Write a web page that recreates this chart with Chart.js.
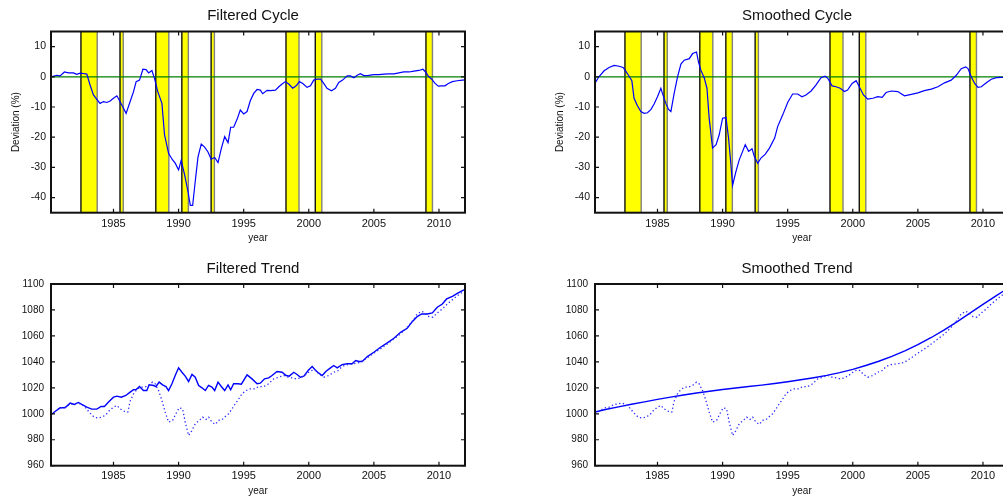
<!DOCTYPE html>
<html>
<head>
<meta charset="utf-8">
<script src="https://cdn.jsdelivr.net/npm/chart.js@4.4.0/dist/chart.umd.min.js"></script>
<style>
  html, body { margin: 0; padding: 0; background: #fff; overflow: hidden; width: 1003px; height: 502px; position: relative; }
  canvas { position: absolute; }
</style>
</head>
<body>
<canvas id="fc" width="500" height="250" style="left:0;top:0;width:500px;height:250px"></canvas>
<canvas id="sc" width="500" height="250" style="left:544px;top:0;width:500px;height:250px"></canvas>
<canvas id="ft" width="500" height="252" style="left:0;top:250px;width:500px;height:252px"></canvas>
<canvas id="st" width="500" height="252" style="left:544px;top:250px;width:500px;height:252px"></canvas>
<script>
// ---- data: [year, value] ----
const yearTicks = [1985, 1990, 1995, 2000, 2005, 2010];
const cycleTicks = [-40, -30, -20, -10, 0, 10];
const trendTicks = [960, 980, 1000, 1020, 1040, 1060, 1080, 1100];

// recession periods [start, end]
const recessions = [
  [1982.5, 1983.75], [1985.5, 1985.75], [1988.25, 1989.25], [1990.25, 1990.75],
  [1992.5, 1992.75], [1998.25, 1999.25], [2000.5, 2001.0], [2009.0, 2009.5]
];

const filteredCycle = [
  [1980.2,0],[1980.64,0.5],[1980.9,0.3],[1981.23,1.6],[1981.54,1.3],[1981.92,1.3],[1982.18,0.8],
  [1982.44,1.2],[1982.69,1.1],[1982.95,0.9],[1983.2,-2.7],[1983.46,-6],[1983.72,-7.5],[1983.97,-8.8],
  [1984.23,-8.2],[1984.49,-8.5],[1984.74,-8],[1985.0,-7.1],[1985.26,-6.3],[1985.5,-8.2],[1985.77,-10.4],
  [1985.97,-12.1],[1986.28,-8.2],[1986.54,-4.9],[1986.74,-1.6],[1987.0,-1.1],[1987.26,2.5],[1987.5,2.4],
  [1987.7,1.3],[1987.95,2.1],[1988.15,-0.5],[1988.4,-4.9],[1988.72,-8.8],[1988.92,-19.2],[1989.23,-25.3],
  [1989.5,-27.3],[1989.74,-28.6],[1990.0,-30.8],[1990.2,-27.7],[1990.46,-32.4],[1990.72,-37.9],
  [1990.9,-42.6],[1991.08,-42.6],[1991.28,-34.6],[1991.49,-26.6],[1991.74,-22.3],[1992.0,-23.3],
  [1992.26,-24.9],[1992.5,-27.3],[1992.77,-26.7],[1993.03,-28.4],[1993.28,-23.8],[1993.54,-19.8],
  [1993.8,-21.8],[1994.0,-16.7],[1994.23,-16.7],[1994.5,-14],[1994.74,-11],[1995.0,-12.3],[1995.26,-11.5],
  [1995.5,-8],[1995.77,-5.5],[1996.03,-4.2],[1996.28,-4.4],[1996.46,-5.6],[1996.8,-4.5],[1997.05,-4.6],
  [1997.44,-4.4],[1997.7,-3.3],[1997.95,-2.4],[1998.2,-1.6],[1998.46,-2.4],[1998.77,-3.8],[1999.03,-3],
  [1999.28,-1.6],[1999.54,-2.2],[1999.87,-3.5],[2000.13,-3],[2000.38,-1.1],[2000.64,-0.8],[2000.9,-0.8],
  [2001.15,-2.2],[2001.4,-3.8],[2001.74,-4.6],[2002.05,-3.8],[2002.3,-1.9],[2002.6,-1.1],[2002.95,0.3],
  [2003.2,0.3],[2003.46,-0.3],[2003.72,0.5],[2003.97,1.0],[2004.23,0.4],[2004.6,0.5],[2005.0,0.7],
  [2005.38,0.7],[2005.77,0.9],[2006.15,1.0],[2006.54,1.0],[2006.92,1.3],[2007.3,1.6],[2007.7,1.6],
  [2008.08,1.9],[2008.46,2.1],[2008.77,2.5],[2008.97,1.6],[2009.18,0.2],[2009.44,-0.8],[2009.7,-2.2],
  [2009.95,-3.1],[2010.2,-3],[2010.46,-3],[2010.72,-2.2],[2011.03,-1.6],[2011.4,-1.3],[2011.8,-1.1],[2012.0,-1.0]
];

const smoothedCycle = [
  [1980.2,-2.1],[1980.5,0],[1980.9,2.0],[1981.28,3.1],[1981.67,3.8],[1982.05,3.5],[1982.36,3.1],
  [1982.56,1.9],[1982.82,0.2],[1983.03,-1.3],[1983.2,-7.1],[1983.46,-9.6],[1983.72,-11.5],[1983.97,-12.1],
  [1984.23,-11.9],[1984.5,-10.8],[1984.74,-9],[1985.0,-6.6],[1985.26,-3.8],[1985.38,-5.5],[1985.64,-8.8],
  [1985.85,-10.8],[1986.03,-11.5],[1986.28,-5.5],[1986.54,0],[1986.8,4.2],[1987.05,5.5],[1987.44,6.0],
  [1987.7,7.7],[1988.0,8.2],[1988.15,4.9],[1988.33,2.2],[1988.6,-0.5],[1988.8,-3.8],[1988.97,-13.7],
  [1989.23,-23.6],[1989.5,-22.5],[1989.74,-19.2],[1990.0,-13.7],[1990.26,-13.5],[1990.46,-20.3],
  [1990.64,-29.1],[1990.77,-35.9],[1991.03,-31.3],[1991.28,-27.5],[1991.54,-24.7],[1991.74,-22.5],
  [1992.0,-24.7],[1992.26,-23.8],[1992.44,-26.4],[1992.7,-28.6],[1992.95,-26.9],[1993.28,-25.6],
  [1993.6,-23.6],[1994.0,-20.3],[1994.23,-16.5],[1994.62,-12.6],[1995.0,-8.5],[1995.38,-5.7],
  [1995.77,-5.7],[1996.1,-6.6],[1996.4,-6.0],[1996.8,-4.7],[1997.18,-2.7],[1997.56,-0.3],[1997.87,0.2],
  [1998.08,-0.5],[1998.41,-3],[1998.72,-3.3],[1999.03,-3.8],[1999.36,-4.9],[1999.6,-4.4],[1999.95,-2.2],
  [2000.26,-1.3],[2000.5,-3.3],[2000.82,-6.0],[2001.15,-7.4],[2001.54,-7.1],[2001.92,-6.6],[2002.26,-6.8],
  [2002.56,-5.2],[2002.95,-4.7],[2003.46,-4.9],[2003.97,-6.3],[2004.5,-5.8],[2005.0,-5.3],[2005.5,-4.6],
  [2006.03,-4.1],[2006.54,-3.3],[2007.05,-2.0],[2007.56,-1.1],[2007.95,0.5],[2008.33,2.7],[2008.67,3.3],
  [2008.85,2.7],[2009.1,0],[2009.36,-2.2],[2009.62,-3.5],[2009.87,-3.3],[2010.26,-2.0],[2010.64,-0.8],
  [2011.03,-0.3],[2011.41,-0.2],[2011.8,-0.2],[2012.0,-0.2]
];

const filteredTrend = [
  [1980.2,999.2],[1980.51,1001.8],[1980.9,1004.6],[1981.28,1004.6],[1981.67,1008.2],[1982.0,1007.2],
  [1982.3,1008.7],[1982.56,1007.2],[1982.95,1005.1],[1983.33,1003.6],[1983.72,1003.6],[1984.05,1005.6],
  [1984.3,1005.6],[1984.62,1009],[1985.0,1012.8],[1985.26,1013.6],[1985.6,1012.8],[1985.95,1014.1],
  [1986.28,1016.7],[1986.54,1018.5],[1986.74,1018.7],[1987.0,1021],[1987.3,1017.9],[1987.56,1017.9],
  [1987.74,1022.3],[1988.08,1021.8],[1988.26,1021],[1988.51,1024.4],[1988.77,1022.3],[1989.03,1021],
  [1989.23,1017.9],[1989.49,1023.1],[1989.74,1029.5],[1990.0,1035.4],[1990.26,1032],[1990.51,1029],
  [1990.77,1024.9],[1991.03,1030.3],[1991.28,1028.2],[1991.54,1021.8],[1991.8,1020],[1992.05,1017.9],
  [1992.3,1021.8],[1992.56,1020.5],[1992.77,1017.9],[1993.03,1024.4],[1993.28,1021],[1993.54,1017.9],
  [1993.8,1022.3],[1994.0,1018.5],[1994.23,1023.1],[1994.56,1023.1],[1994.82,1022.8],[1995.26,1030],
  [1995.64,1026.9],[1996.03,1023.1],[1996.28,1023.6],[1996.6,1026.9],[1996.92,1027.7],[1997.18,1029.5],
  [1997.56,1032.6],[1997.95,1032],[1998.26,1029.5],[1998.5,1029],[1998.85,1032],[1999.1,1030.3],
  [1999.36,1028.2],[1999.62,1029],[1999.95,1033.3],[2000.26,1036.4],[2000.5,1033.8],[2000.77,1031.3],
  [2001.03,1029.5],[2001.33,1032.8],[2001.67,1035.4],[2001.92,1037.2],[2002.18,1035.4],[2002.56,1037.9],
  [2002.95,1038.5],[2003.33,1038.5],[2003.6,1041],[2003.85,1040.3],[2004.1,1040.3],[2004.5,1044.1],
  [2005.0,1047.4],[2005.51,1051.3],[2006.03,1054.6],[2006.54,1058.2],[2007.05,1062.8],[2007.56,1065.9],
  [2007.95,1071],[2008.33,1074.9],[2008.67,1076.9],[2009.1,1076.9],[2009.49,1077.7],[2009.87,1082.1],
  [2010.26,1084.6],[2010.59,1088.5],[2011.03,1090.5],[2011.41,1092.8],[2011.8,1094.9],[2012.05,1095.9]
];

const observed = [
  [1980.2,1000],[1980.51,1001.8],[1980.9,1004.4],[1981.28,1005.1],[1981.67,1007.2],[1982.0,1007.7],
  [1982.3,1008.2],[1982.56,1007.2],[1982.82,1005.1],[1983.2,1000.5],[1983.51,997.4],[1983.8,996.7],
  [1984.1,997.4],[1984.41,999.2],[1984.69,1002.6],[1985.0,1005.1],[1985.26,1006.4],[1985.51,1003.8],
  [1985.85,1001.8],[1986.1,1001.3],[1986.28,1009.7],[1986.54,1015.4],[1986.74,1017.9],[1987.05,1020.5],
  [1987.36,1020.5],[1987.69,1021.8],[1988.0,1024.4],[1988.2,1023.1],[1988.46,1017.9],[1988.72,1010.3],
  [1988.97,1001.3],[1989.23,993.6],[1989.54,994.9],[1989.79,1000],[1990.05,1004.6],[1990.31,1003.8],
  [1990.51,993.6],[1990.77,983.3],[1991.03,987.2],[1991.28,992.3],[1991.59,994.9],[1991.85,997.4],
  [1992.1,995.6],[1992.31,997.4],[1992.56,993.6],[1992.82,991.8],[1993.08,994.9],[1993.33,995.4],
  [1993.59,997.9],[1993.85,1000],[1994.1,1003.8],[1994.36,1007.7],[1994.62,1011.5],[1994.87,1015.4],
  [1995.18,1017.9],[1995.51,1019.2],[1995.85,1019.2],[1996.15,1021],[1996.54,1021],[1996.92,1023.1],
  [1997.31,1026.9],[1997.69,1028.2],[1998.08,1029.5],[1998.41,1028.2],[1998.72,1027.7],[1999.03,1026.9],
  [1999.36,1027.7],[1999.69,1029.5],[2000.0,1032],[2000.31,1033.8],[2000.56,1033.3],[2000.82,1030.3],
  [2001.15,1028.2],[2001.54,1029.5],[2001.92,1032],[2002.26,1033.3],[2002.56,1036.4],[2002.95,1037.9],
  [2003.46,1038.5],[2003.97,1039.7],[2004.49,1043.1],[2005.0,1046.7],[2005.51,1050],[2006.03,1053.8],
  [2006.54,1057.7],[2007.05,1061.5],[2007.56,1066.7],[2007.95,1071.3],[2008.33,1076.9],[2008.67,1079],
  [2008.92,1077.7],[2009.23,1074.9],[2009.54,1074.4],[2009.87,1077.7],[2010.26,1080.8],[2010.64,1084.6],
  [2011.03,1087.9],[2011.41,1091],[2011.8,1093.6],[2012.05,1094.9]
];

const smoothedTrend = [
  [1980.2,1001.4],[1981,1003.3],[1982,1005.3],[1983,1007.3],[1984,1009.2],[1985,1011.1],[1986,1012.8],
  [1987,1014.5],[1988,1016.0],[1989,1017.4],[1990,1018.7],[1991,1019.9],[1992,1021.0],[1993,1022.1],
  [1994,1023.3],[1995,1024.7],[1996,1026.2],[1997,1027.8],[1998,1029.6],[1999,1031.7],[2000,1034.2],
  [2001,1037.2],[2002,1040.5],[2003,1044.3],[2004,1048.5],[2005,1053.2],[2006,1058.6],[2007,1064.5],
  [2008,1070.8],[2009,1077.5],[2010,1084.3],[2011,1090.8],[2012,1097.3]
];

// ---- drawing ----
const FONT = '"Liberation Sans", Arial, Helvetica, sans-serif';
Chart.defaults.font.family = FONT;
Chart.defaults.color = '#111';

const toXY = arr => arr.map(([x, y]) => ({ x, y }));

// recession shading, zero line, box frame with inward ticks, panel title
const panelDecor = {
  id: 'panelDecor',
  beforeDatasetsDraw(chart, args, opts) {
    const { ctx, chartArea: a, scales: { x, y } } = chart;
    ctx.save();
    ctx.beginPath();
    ctx.rect(a.left, a.top, a.right - a.left, a.bottom - a.top);
    ctx.clip();
    (opts.bands || []).forEach(([s, e]) => {
      const x0 = x.getPixelForValue(s), x1 = x.getPixelForValue(e);
      ctx.fillStyle = '#ffff00';
      ctx.fillRect(x0, a.top, x1 - x0, a.bottom - a.top);
      ctx.lineWidth = 1.4;
      ctx.strokeStyle = '#111';
      ctx.beginPath(); ctx.moveTo(x0, a.top); ctx.lineTo(x0, a.bottom); ctx.stroke();
      ctx.strokeStyle = '#808080';
      ctx.beginPath(); ctx.moveTo(x1, a.top); ctx.lineTo(x1, a.bottom); ctx.stroke();
    });
    if (opts.zeroLine) {
      const yz = y.getPixelForValue(0);
      ctx.strokeStyle = '#008000';
      ctx.lineWidth = 1.3;
      ctx.beginPath(); ctx.moveTo(a.left, yz); ctx.lineTo(a.right, yz); ctx.stroke();
    }
    ctx.restore();
  },
  afterDatasetsDraw(chart) {
    const { ctx, chartArea: a, scales: { x, y } } = chart;
    ctx.save();
    ctx.strokeStyle = '#111';
    ctx.lineWidth = 1.2;
    const tl = 4;
    ctx.beginPath();
    x.ticks.forEach(t => {
      const px = x.getPixelForValue(t.value);
      ctx.moveTo(px, a.top); ctx.lineTo(px, a.top + tl);
      ctx.moveTo(px, a.bottom); ctx.lineTo(px, a.bottom - tl);
    });
    y.ticks.forEach(t => {
      const py = y.getPixelForValue(t.value);
      ctx.moveTo(a.left, py); ctx.lineTo(a.left + tl, py);
      ctx.moveTo(a.right, py); ctx.lineTo(a.right - tl, py);
    });
    ctx.stroke();
    ctx.lineWidth = 2;
    ctx.strokeRect(a.left, a.top, a.right - a.left, a.bottom - a.top);
    ctx.restore();
  },
  afterDraw(chart, args, opts) {
    if (!opts.title) return;
    const { ctx, chartArea: a } = chart;
    ctx.save();
    ctx.font = '15px ' + FONT;
    ctx.fillStyle = '#111';
    ctx.textAlign = 'center';
    ctx.textBaseline = 'alphabetic';
    ctx.fillText(opts.title, (a.left + a.right) / 2 - 5, a.top - 11.2);
    ctx.restore();
  }
};

function xScale(axisHeight, labelPad, titlePad) {
  return {
    type: 'linear', min: 1980.2, max: 2012.0,
    afterBuildTicks: s => { s.ticks = yearTicks.map(v => ({ value: v })); },
    afterFit: s => { s.height = axisHeight; },
    grid: { display: false, drawTicks: false },
    border: { display: false },
    ticks: { autoSkip: false, maxRotation: 0, padding: labelPad, font: { size: 11 }, color: '#111',
             callback: v => String(v) },
    title: { display: true, text: 'year', font: { size: 10 }, color: '#111',
             padding: { top: 0, bottom: titlePad } }
  };
}

function cycleChart(id, title, series) {
  return new Chart(document.getElementById(id), {
    type: 'line',
    data: { datasets: [{ data: toXY(series), borderColor: '#0000ff', borderWidth: 1.2, pointRadius: 0, tension: 0 }] },
    options: {
      responsive: false, animation: false, devicePixelRatio: 1,
      layout: { padding: { top: 31.5, right: 35, left: 0, bottom: 0 } },
      plugins: { legend: { display: false }, tooltip: { enabled: false },
                 panelDecor: { bands: recessions, zeroLine: true, title } },
      scales: {
        x: xScale(37.3, 5, 6),
        y: {
          min: -45, max: 15,
          afterBuildTicks: s => { s.ticks = cycleTicks.map(v => ({ value: v })); },
          afterFit: s => { s.width = 51; },
          grid: { display: false, drawTicks: false },
          border: { display: false },
          ticks: { padding: 5, font: { size: 10.5 }, color: '#111' },
          title: { display: true, text: 'Deviation (%)', font: { size: 10 }, color: '#111',
                   padding: { top: 10, bottom: 0 } }
        }
      }
    },
    plugins: [panelDecor]
  });
}

function trendChart(id, title, trend) {
  return new Chart(document.getElementById(id), {
    type: 'line',
    data: { datasets: [
      { data: toXY(observed), borderColor: '#2a2aff', borderWidth: 1.3, borderDash: [1.3, 2.5],
        pointRadius: 0, tension: 0 },
      { data: toXY(trend), borderColor: '#0000ff', borderWidth: 1.4, pointRadius: 0, tension: 0 }
    ] },
    options: {
      responsive: false, animation: false, devicePixelRatio: 1,
      layout: { padding: { top: 34, right: 35, left: 0, bottom: 0 } },
      plugins: { legend: { display: false }, tooltip: { enabled: false },
                 panelDecor: { title } },
      scales: {
        x: xScale(36.3, 4, 4.3),
        y: {
          min: 960, max: 1100,
          afterBuildTicks: s => { s.ticks = trendTicks.map(v => ({ value: v })); },
          afterFit: s => { s.width = 51; },
          grid: { display: false, drawTicks: false },
          border: { display: false },
          ticks: { padding: 7, font: { size: 10 }, color: '#111', callback: v => String(v) }
        }
      }
    },
    plugins: [panelDecor]
  });
}

cycleChart('fc', 'Filtered Cycle', filteredCycle);
cycleChart('sc', 'Smoothed Cycle', smoothedCycle);
trendChart('ft', 'Filtered Trend', filteredTrend);
trendChart('st', 'Smoothed Trend', smoothedTrend);
</script>
</body>
</html>
